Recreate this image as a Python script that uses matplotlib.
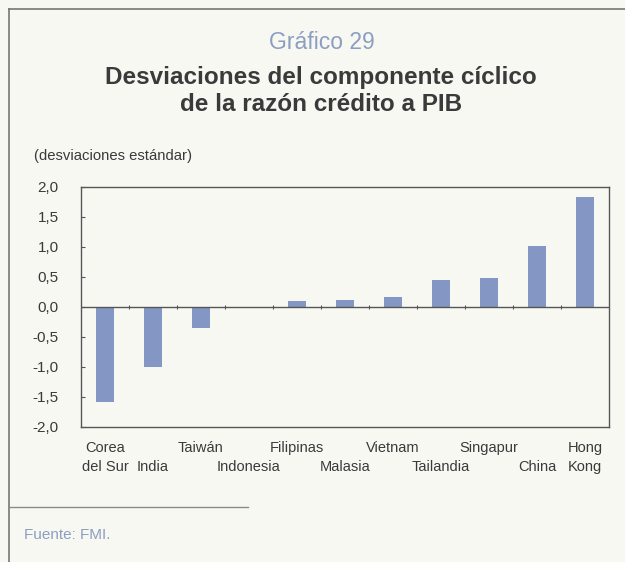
import matplotlib
matplotlib.use("Agg")
import matplotlib.pyplot as plt
from matplotlib.lines import Line2D
from matplotlib.transforms import blended_transform_factory
from matplotlib.ticker import FuncFormatter

# Data: cyclical component deviations of credit-to-GDP ratio (std. deviations)
countries = ["Corea\ndel Sur", "India", "Taiwán", "Indonesia", "Filipinas",
             "Malasia", "Vietnam", "Tailandia", "Singapur", "China", "Hong\nKong"]
values = [-1.58, -1.0, -0.35, 0.0, 0.1, 0.12, 0.17, 0.45, 0.48, 1.02, 1.83]
yticks = [-2.0, -1.5, -1.0, -0.5, 0.0, 0.5, 1.0, 1.5, 2.0]

plt.rcParams["font.family"] = ["Liberation Sans", "DejaVu Sans"]

BG = "#f8f8f3"
BAR = "#8497c4"
TXT = "#3a3a3a"
ACCENT = "#8c9ec2"
W, H = 625, 562


def fx(px):
    return px / W


def fy(py):
    return 1 - py / H


fig = plt.figure(figsize=(W / 100, H / 100), dpi=100, facecolor=BG)

# Outer panel frame (left, top) and source rule
fig.add_artist(Line2D([fx(9), fx(9)], [0, fy(9)], transform=fig.transFigure,
                      color="#777777", lw=1.2))
fig.add_artist(Line2D([fx(9), 1], [fy(9), fy(9)], transform=fig.transFigure,
                      color="#777777", lw=1.2))
fig.add_artist(Line2D([fx(9), fx(248)], [fy(507), fy(507)],
                      transform=fig.transFigure, color="#8a8a8a", lw=1.0))

fig.text(fx(322), fy(49), "Gráfico 29", ha="center", va="baseline",
         fontsize=16.5, color=ACCENT)
fig.text(fx(321), fy(84), "Desviaciones del componente cíclico", ha="center",
         va="baseline", fontsize=17.5, fontweight="bold", color=TXT)
fig.text(fx(321), fy(111), "de la razón crédito a PIB", ha="center",
         va="baseline", fontsize=17.5, fontweight="bold", color=TXT)
fig.text(fx(34), fy(156), "(desviaciones estándar)", ha="left", va="center",
         fontsize=10.7, color=TXT)
fig.text(fx(24), fy(535), "Fuente: FMI.", ha="left", va="center",
         fontsize=11, color=ACCENT)

ax = fig.add_axes([fx(81), fy(427), fx(609) - fx(81), (427 - 187) / H])
ax.set_facecolor(BG)
x = list(range(len(countries)))
ax.bar(x, values, width=0.38, color=BAR, zorder=2)
ax.axhline(0, color="#555555", lw=1.0, zorder=3)
# small separators on the zero line between categories
ax.plot([i + 0.5 for i in x[:-1]], [0] * (len(x) - 1), ls="none", marker="|",
        ms=3, mew=0.8, color="#555555", zorder=3)

ax.set_xlim(-0.5, len(countries) - 0.5)
ax.set_ylim(-2.0, 2.0)
ax.set_yticks(yticks)
ax.yaxis.set_major_formatter(FuncFormatter(lambda v, p: f"{v:.1f}".replace(".", ",")))
ax.tick_params(axis="y", direction="in", length=3, width=0.8, color="#555555",
               labelsize=11, labelcolor=TXT, pad=16)

# Category labels in two staggered rows
ax.set_xticks(x)
ax.set_xticklabels([])
ax.tick_params(axis="x", length=0)
trans = blended_transform_factory(ax.transData, ax.transAxes)
row1_y = -21 / 240
row2_y = -40 / 240
for i, c in enumerate(countries):
    parts = c.split("\n")
    if len(parts) == 2:
        ax.text(i, row1_y, parts[0], transform=trans, ha="center", va="center",
                fontsize=10.5, color=TXT)
        ax.text(i, row2_y, parts[1], transform=trans, ha="center", va="center",
                fontsize=10.5, color=TXT)
    else:
        ax.text(i, row1_y if i % 2 == 0 else row2_y, c, transform=trans,
                ha="center", va="center", fontsize=10.5, color=TXT)

for s in ax.spines.values():
    s.set_color("#555555")
    s.set_linewidth(1.0)

fig.savefig("out.png", dpi=100, facecolor=BG)
